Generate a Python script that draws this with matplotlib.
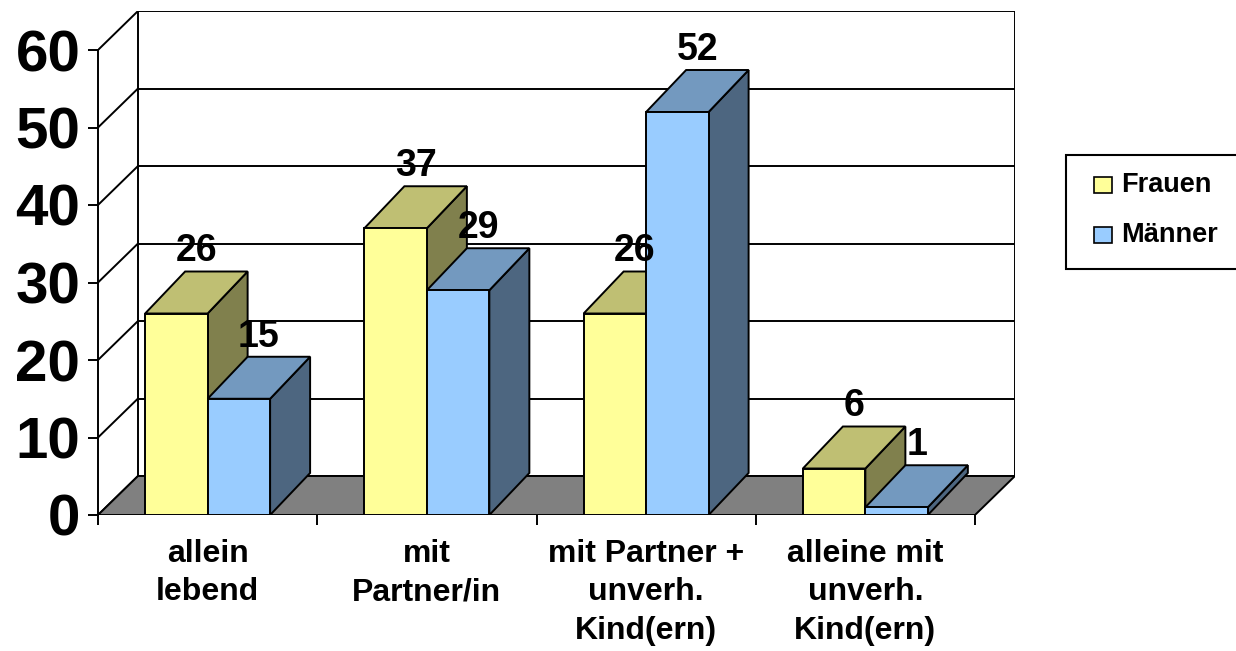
import matplotlib
matplotlib.use("Agg")
import matplotlib.pyplot as plt
from matplotlib.patches import Polygon, Rectangle

# ---- data ----
categories = ["allein\nlebend", "mit\nPartner/in",
              "mit Partner +\nunverh.\nKind(ern)", "alleine mit\nunverh.\nKind(ern)"]
series = ["Frauen", "Männer"]
frauen = [26, 37, 26, 6]
maenner = [15, 29, 52, 1]
yticks = [0, 10, 20, 30, 40, 50, 60]

values = {"Frauen": frauen, "Männer": maenner}
FRONT = {"Frauen": "#FFFF99", "Männer": "#99CCFF"}
TOP = {"Frauen": "#BFBF73", "Männer": "#7399BF"}
SIDE = {"Frauen": "#80804D", "Männer": "#4D6680"}

plt.rcParams["font.family"] = ["Liberation Sans", "DejaVu Sans"]
plt.rcParams["font.weight"] = "bold"

W, H = 1236, 651
fig = plt.figure(figsize=(W / 100, H / 100), dpi=100)
ax = fig.add_axes([98 / W, (H - 515) / H, (1015 - 98) / W, (515 - 11) / H])

n = len(categories)
ymax = yticks[-1]
# 3D depth (data units): one category = 219.25 px, one y unit = 7.75 px
wall_dx, wall_dy = 40 / 219.25, 39 / 7.75
bar_dx, bar_dy = 40 / 219.25, 42 / 7.75
bar_w = 0.285
lw = 1.4

ax.set_xlim(0, n + wall_dx)
ax.set_ylim(0, ymax + wall_dy)

# walls + floor
ax.add_patch(Polygon([(0, 0), (wall_dx, wall_dy), (n + wall_dx, wall_dy), (n, 0)],
                     closed=True, fc="#808080", ec="black", lw=lw, zorder=1))
for t in yticks:
    ax.plot([wall_dx, n + wall_dx], [t + wall_dy] * 2, color="black", lw=lw, zorder=0.5)
    ax.plot([0, wall_dx], [t, t + wall_dy], color="black", lw=lw, zorder=0.5)
ax.plot([wall_dx, wall_dx], [wall_dy, ymax + wall_dy], color="black", lw=lw, zorder=0.5)
ax.plot([n + wall_dx] * 2, [wall_dy, ymax + wall_dy], color="black", lw=lw, zorder=0.5)
ax.plot([0, 0], [0, ymax], color="black", lw=lw, zorder=0.5, clip_on=False)

# bars
z = 2
for i in range(n):
    for j, s in enumerate(series):
        v = values[s][i]
        x0 = i + 0.5 - bar_w + j * bar_w
        x1 = x0 + bar_w
        side = [(x1, 0), (x1 + bar_dx, bar_dy), (x1 + bar_dx, v + bar_dy), (x1, v)]
        top = [(x0, v), (x1, v), (x1 + bar_dx, v + bar_dy), (x0 + bar_dx, v + bar_dy)]
        front = [(x0, 0), (x1, 0), (x1, v), (x0, v)]
        for poly, col in ((side, SIDE[s]), (top, TOP[s]), (front, FRONT[s])):
            ax.add_patch(Polygon(poly, closed=True, fc=col, ec="black", lw=lw,
                                 joinstyle="miter", zorder=z))
        z += 1
        ax.annotate(str(v), ((x0 + x1) / 2 + bar_dx / 2, v + bar_dy),
                    xytext=(0, 1.5), textcoords="offset points",
                    ha="center", va="bottom", fontsize=27, fontweight="bold",
                    zorder=50, annotation_clip=False)

# axes / ticks
for sp in ax.spines.values():
    sp.set_visible(False)
ax.set_yticks(yticks)
ax.set_yticklabels([str(t) for t in yticks])
ax.tick_params(axis="y", length=7.2, width=lw, pad=5.5, labelsize=42)
ax.set_xticks(range(n + 1))
ax.set_xticklabels([""] * (n + 1))
ax.tick_params(axis="x", which="major", length=7.5, width=lw)
ax.set_xticks([i + 0.5 for i in range(n)], minor=True)
ax.set_xticklabels(categories, minor=True, fontsize=23, linespacing=1.38)
ax.tick_params(axis="x", which="minor", length=0, pad=17)

# legend (drawn by hand, box runs off the right edge like the original)
def fx(px):
    return px / W

def fy(py):
    return 1 - py / H

fig.patches.append(Rectangle((fx(1066), fy(269)), fx(1245) - fx(1066), fy(155) - fy(269),
                             transform=fig.transFigure, fc="white", ec="black", lw=1.5))
for k, s in enumerate(series):
    cy = 185 + 50 * k
    fig.patches.append(Rectangle((fx(1094), fy(cy + 8)), fx(18), fy(cy - 8) - fy(cy + 8),
                                 transform=fig.transFigure, fc=FRONT[s], ec="black", lw=1.2))
    fig.text(fx(1121), fy(cy), s, fontsize=19.5, fontweight="bold", ha="left", va="center")

fig.savefig("out.png", dpi=100)
